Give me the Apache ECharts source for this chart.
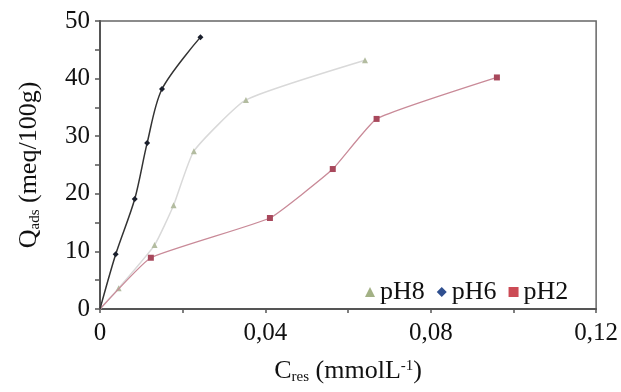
<!DOCTYPE html>
<html><head><meta charset="utf-8">
<script src="https://cdn.jsdelivr.net/npm/echarts@6/dist/echarts.min.js"></script>
<style>html,body{margin:0;padding:0;background:#fff}#c{width:621px;height:392px}</style>
</head><body><div id="c"></div>
<script>
const seriesNames = ['pH8', 'pH6', 'pH2'];
const pH8X = [0, 0.0045, 0.0132, 0.0178, 0.0227, 0.0353, 0.0641];
const pH8Y = [0, 3.6, 11.1, 18.0, 27.4, 36.3, 43.2];
const pH6X = [0, 0.0038, 0.0084, 0.0114, 0.0150, 0.0243];
const pH6Y = [0, 9.5, 19.1, 28.8, 38.2, 47.2];
const pH2X = [0, 0.0123, 0.0411, 0.0563, 0.0669, 0.0960];
const pH2Y = [0, 8.9, 15.8, 24.3, 33.0, 40.2];
const xTickLabels = ['0', '0,04', '0,08', '0,12'];
const yTickLabels = ['0', '10', '20', '30', '40', '50'];

const FONT = 'Liberation Serif';
function pts(xs, ys) {
  return xs.map((x, i) => i === 0 ? { value: [x, ys[i]], symbol: 'none' } : [x, ys[i]]);
}
const chart = echarts.init(document.getElementById('c'), null, { renderer: 'canvas' });
chart.setOption({
  animation: false,
  backgroundColor: '#fff',
  grid: { left: 100, right: 22, top: 21, bottom: 83, show: true, borderColor: '#666', borderWidth: 1.5 },
  legend: {
    left: 360, top: 274,
    itemWidth: 10, itemHeight: 10, itemGap: 12,
    textStyle: { fontFamily: FONT, fontSize: 26, color: '#111' },
    data: [
      { name: 'pH8', icon: 'triangle', itemStyle: { color: '#a3b185' } },
      { name: 'pH6', icon: 'diamond', itemStyle: { color: '#2f4f8f' } },
      { name: 'pH2', icon: 'rect', itemStyle: { color: '#cc4b55' } }
    ]
  },
  xAxis: {
    type: 'value', min: 0, max: 0.12, interval: 0.02,
    axisLine: { show: true, lineStyle: { color: '#555', width: 2 } },
    axisTick: { show: true, length: 4, lineStyle: { color: '#555', width: 1.5 } },
    splitLine: { show: false },
    axisLabel: {
      fontFamily: FONT, fontSize: 25, color: '#111', margin: 12,
      formatter: v => { const k = Math.round(v * 100); return k % 4 === 0 ? xTickLabels[k / 4] : ''; }
    },
    name: '{a|C}{s|res}{a| (mmolL}{p|-1}{a|)}',
    nameLocation: 'middle', nameGap: 47,
    nameTextStyle: {
      rich: {
        a: { fontFamily: FONT, fontSize: 26, color: '#111', lineHeight: 30 },
        s: { fontFamily: FONT, fontSize: 15, color: '#111', lineHeight: 30, padding: [12, 0, 0, 0] },
        p: { fontFamily: FONT, fontSize: 15, color: '#111', lineHeight: 30, padding: [0, 0, 10, 0] }
      }
    }
  },
  yAxis: {
    type: 'value', min: 0, max: 50, interval: 5,
    axisLine: { show: true, lineStyle: { color: '#555', width: 2 } },
    axisTick: { show: true, length: 5, lineStyle: { color: '#555', width: 1.5 } },
    splitLine: { show: false },
    axisLabel: {
      fontFamily: FONT, fontSize: 25, color: '#111', margin: 10,
      formatter: v => (Math.round(v) % 10 === 0 ? yTickLabels[Math.round(v) / 10] : '')
    },
    name: '{a|Q}{s|ads}{a| (meq/100g)}',
    nameLocation: 'middle', nameGap: 56, nameRotate: 90,
    nameTextStyle: {
      rich: {
        a: { fontFamily: FONT, fontSize: 26, color: '#111', lineHeight: 30 },
        s: { fontFamily: FONT, fontSize: 15, color: '#111', lineHeight: 30, padding: [12, 0, 0, 0] }
      }
    }
  },
  series: [
    {
      name: 'pH8', type: 'line', data: pts(pH8X, pH8Y), smooth: 0.15,
      symbol: 'triangle', symbolSize: 6,
      lineStyle: { color: '#d9d9d9', width: 1.5 },
      itemStyle: { color: '#b3bca0' }, z: 2
    },
    {
      name: 'pH6', type: 'line', data: pts(pH6X, pH6Y), smooth: 0.3,
      symbol: 'diamond', symbolSize: 6,
      lineStyle: { color: '#333', width: 1.5 },
      itemStyle: { color: '#1a1f2c' }, z: 4
    },
    {
      name: 'pH2', type: 'line', data: pts(pH2X, pH2Y), smooth: 0.12,
      symbol: 'rect', symbolSize: 6,
      lineStyle: { color: '#c98a98', width: 1.3 },
      itemStyle: { color: '#a8485c' }, z: 3
    }
  ]
});
</script></body></html>
